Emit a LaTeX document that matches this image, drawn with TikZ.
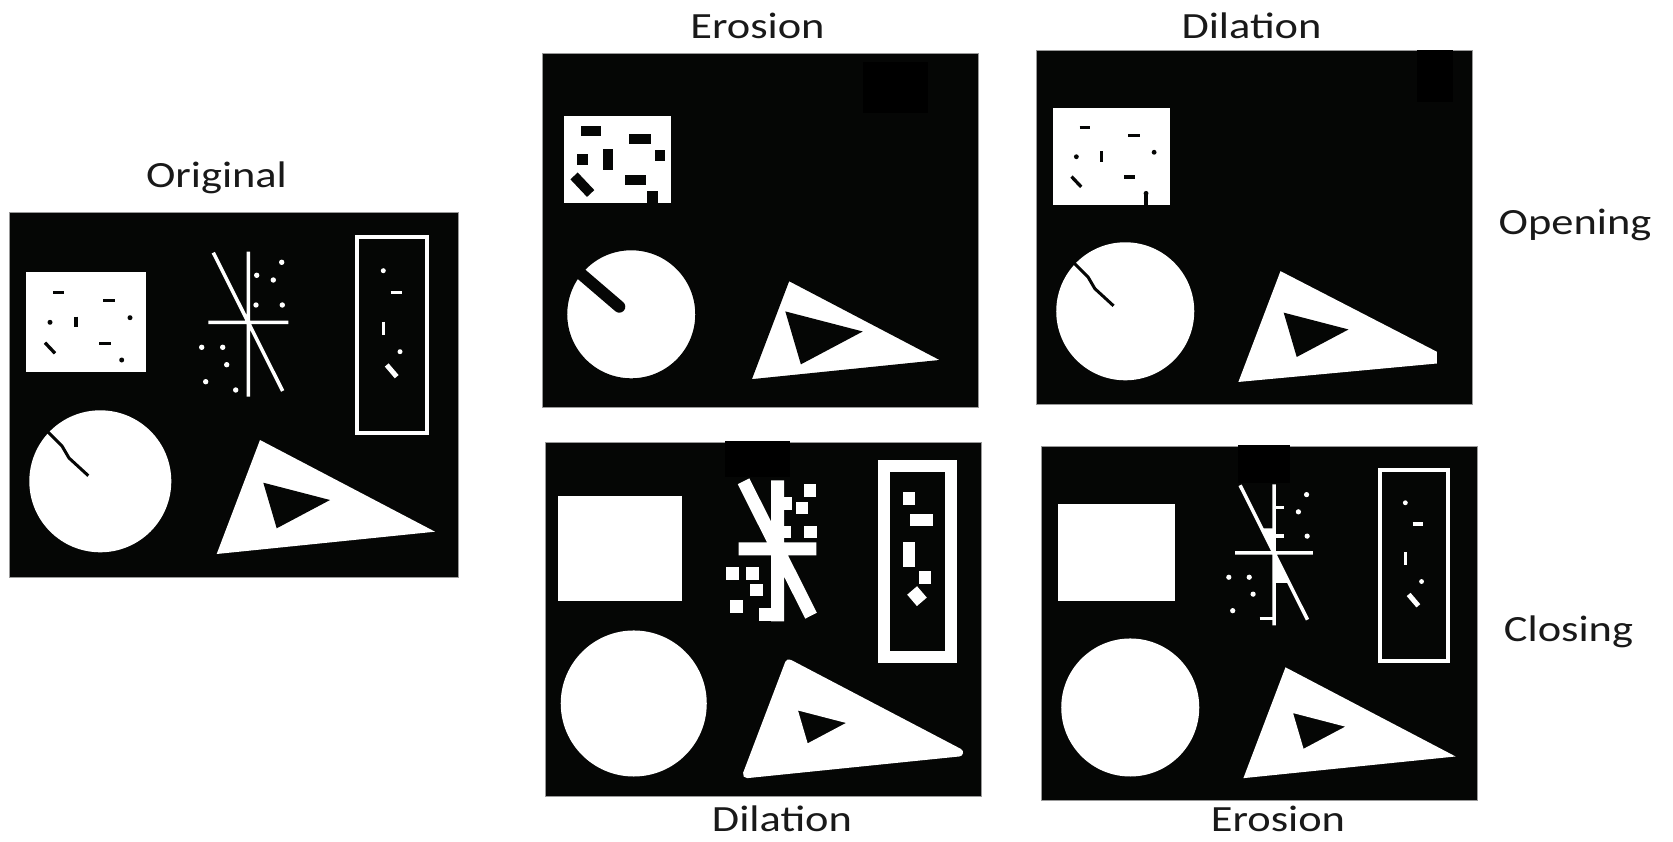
\documentclass[tikz,border=0pt]{standalone}
\usepackage{fontspec}
\setmainfont{Carlito}
\usetikzlibrary{positioning}

\definecolor{panelbg}{rgb}{0.02,0.024,0.02}

% shapes of the test image, in the frame of the original panel
\newcommand{\shpbox}{(17,59) rectangle (137,159)}
\newcommand{\shprim}{(348.3,23.7) rectangle (417.7,220.3)}
\newcommand{\shpdisc}{(91.3,268.3) circle [radius=71pt]}
\newcommand{\shpcrack}{(38,218) -- (53,233) -- (60,245) -- (79.3,262.7)}
\newcommand{\shpwedge}{(251,227) -- (426,318.7) -- (207.7,341) -- cycle}
\newcommand{\shpnotch}{(254.3,269.7) -- (321,287) -- (267.7,315.3) -- cycle}
\newcommand{\shpstar}{(239.3,38.7) -- (239.3,183.7) (204.3,39.7) -- (273.7,178) (199.3,109.3) -- (279.3,109.3)}
\newcommand{\lstboxdash}{44.3/79.3/55/79.3, 94.3/87.7/106/87.7, 67/103.7/67/114.3, 36/129.7/46/140.3, 90.3/130.3/101.7/130.3}
\newcommand{\lstboxdot}{41/109.3, 121/104.7, 112.7/147}
\newcommand{\lststardot}{272.7/49.3, 247.7/62.3, 264.3/67, 247/92, 273.3/92, 192.7/134.3, 213.7/134.3, 217.7/151.7, 196.7/168.7, 226.7/177}
\newcommand{\lststardotc}{272.7/49.3, 264.3/67, 273.3/92, 192.7/134.3, 213.7/134.3, 217.7/151.7, 196.7/168.7}
\newcommand{\lstrimdot}{374.3/57.7, 391/138.7}
\newcommand{\lstrimdash}{381.7/79.3/392.7/79.3, 374.3/108.7/374.3/122}

\tikzset{
  panel/.style={fill=panelbg, draw=black!40, line width=1pt},
  patch/.style={fill=black},
  hole/.style={draw=panelbg, line width=3.3pt},
  wline/.style={draw=white, line width=3.5pt},
  caption/.style={font=\fontsize{37}{44}\selectfont, text=black!90, anchor=base, inner sep=0pt, xscale=1.2}
}

\begin{document}
\begin{tikzpicture}[x=1pt, y=-1pt]

        \fill[white] (0,0) rectangle (1673,842);
        \useasboundingbox (0,0) rectangle (1673,842);

        % original
        \begin{scope}[shift={(9,213)}]
        \filldraw[panel] (0,0) rectangle (449,364);
        \fill[white] \shpbox;
        \foreach \xa/\ya/\xb/\yb in \lstboxdash \draw[hole] (\xa,\ya) -- (\xb,\yb);
        \foreach \x/\y in \lstboxdot \fill[panelbg] (\x,\y) circle [radius=2.5pt];
        \draw[wline] \shpstar;
        \foreach \x/\y in \lststardot \fill[white] (\x,\y) circle [radius=2.7pt];
        \draw[wline, line width=4pt] \shprim;
        \foreach \x/\y in \lstrimdot \fill[white] (\x,\y) circle [radius=2.5pt];
        \foreach \xa/\ya/\xb/\yb in \lstrimdash \draw[wline] (\xa,\ya) -- (\xb,\yb);
        \draw[wline, line width=5pt] (377.7,152) -- (387.7,163.7);
        \fill[white] \shpdisc;
        \draw[hole, line width=3pt, line join=round] \shpcrack;
        \fill[white] \shpwedge;
        \fill[panelbg] \shpnotch;
        \end{scope}

        % opening, step 1: erosion
        \begin{scope}[shift={(542.5,53.5)}, scale=0.972]
        \filldraw[panel] (0,0) rectangle (449,364);
        \fill[patch] (329.7,8.4) rectangle (396.6,61.2);
        \fill[white] \shpbox;
        \draw[panelbg, line width=10pt] \shpbox;
        \foreach \xa/\ya/\xb/\yb in \lstboxdash \draw[hole, line width=10pt, line cap=rect] (\xa,\ya) -- (\xb,\yb);
        \foreach \x/\y in \lstboxdot \fill[panelbg] ({\x-5.5},{\y-5.5}) rectangle ({\x+5.5},{\y+5.5});
        \fill[panelbg] (107,141) rectangle (118.5,160);
        \fill[white] \shpdisc;
        \draw[panelbg, line width=10pt] \shpdisc;
        \draw[hole, line width=12pt, line cap=round] (30,218.5) -- (79,260.5);
        \fill[white] \shpwedge;
        \draw[panelbg, line width=10pt] \shpwedge;
        \filldraw[panelbg, line width=6pt] \shpnotch;
        \end{scope}

        % opening, step 2: dilation
        \begin{scope}[shift={(1036.5,50.5)}, scale=0.972]
        \filldraw[panel] (0,0) rectangle (449,364);
        \fill[patch] (391.2,-0.5) rectangle (428.8,52.7);
        \fill[white] \shpbox;
        \foreach \xa/\ya/\xb/\yb in \lstboxdash \draw[hole] (\xa,\ya) -- (\xb,\yb);
        \foreach \x/\y in \lstboxdot \fill[panelbg] (\x,\y) circle [radius=2.5pt];
        \draw[hole] (112.7,147) -- (112.7,160);
        \fill[white] \shpdisc;
        \draw[hole, line width=3pt, line join=round] \shpcrack;
        \fill[white] (251,227) -- (412,310) -- (412,322) -- (207.7,341) -- cycle;
        \fill[panelbg] \shpnotch;
        \end{scope}

        % closing, step 1: dilation
        \begin{scope}[shift={(545,442.7)}, scale=0.972]
        \filldraw[panel] (0,0) rectangle (449,364);
        \fill[patch] (185.2,-2.1) rectangle (252.1,35);
        \filldraw[white, line width=8pt] \shpbox;
        \draw[white, line width=13pt] \shpstar;
        \foreach \x/\y in \lststardot \fill[white] ({\x-6.5},{\y-6.5}) rectangle ({\x+6.5},{\y+6.5});
        \draw[white, line width=12pt] \shprim;
        \foreach \x/\y in \lstrimdot \fill[white] ({\x-6.5},{\y-6.5}) rectangle ({\x+6.5},{\y+6.5});
        \foreach \xa/\ya/\xb/\yb in \lstrimdash \draw[white, line width=12pt, line cap=rect] (\xa,\ya) -- (\xb,\yb);
        \draw[white, line width=13pt] (377.7,152) -- (387.7,163.7);
        \filldraw[white, line width=8pt] \shpdisc;
        \filldraw[white, line width=8pt, line join=round] \shpwedge;
        \fill[panelbg] \shpnotch;
        \draw[white, line width=8pt, line join=round] \shpnotch;
        \end{scope}

        % closing, step 2: erosion
        \begin{scope}[shift={(1041.5,446.7)}, scale=0.972]
        \filldraw[panel] (0,0) rectangle (449,364);
        \fill[patch] (202.5,-1.7) rectangle (255.7,37.7);
        \fill[white] \shpbox;
        \draw[wline] \shpstar;
        \fill[white] (226.5,84) -- (239.3,84) -- (239.3,109.4) -- cycle;
        \fill[white] (239.3,109.4) -- (239.3,140) -- (254.6,140) -- cycle;
        \draw[wline] (239.3,62.3) -- (249.5,62.3) (239.3,92) -- (249.5,92) (224.5,177) -- (239.3,177);
        \foreach \x/\y in \lststardotc \fill[white] (\x,\y) circle [radius=2.7pt];
        \draw[wline, line width=4pt] \shprim;
        \foreach \x/\y in \lstrimdot \fill[white] (\x,\y) circle [radius=2.5pt];
        \foreach \xa/\ya/\xb/\yb in \lstrimdash \draw[wline] (\xa,\ya) -- (\xb,\yb);
        \draw[wline, line width=5pt] (377.7,152) -- (387.7,163.7);
        \fill[white] \shpdisc;
        \fill[white] \shpwedge;
        \fill[panelbg] \shpnotch;
        \draw[white, line width=6pt, line join=round] \shpnotch;
        \end{scope}

        \node[caption] (cap-orig) at (216.5,188) {Original};
        \node[caption] (cap-ero) at (757.5,38.5) {Erosion};
        \node[caption] (cap-dil) at (1251.5,38.5) {Dilation};
        \node[caption] (cap-open) at (1575,235) {Opening};
        \node[caption] (cap-close) at (1568.5,641) {Closing};
        \node[caption] (cap-dil2) at (782,831.7) {Dilation};
        \node[caption] (cap-ero2) at (1278,831.7) {Erosion};

\end{tikzpicture}
\end{document}
